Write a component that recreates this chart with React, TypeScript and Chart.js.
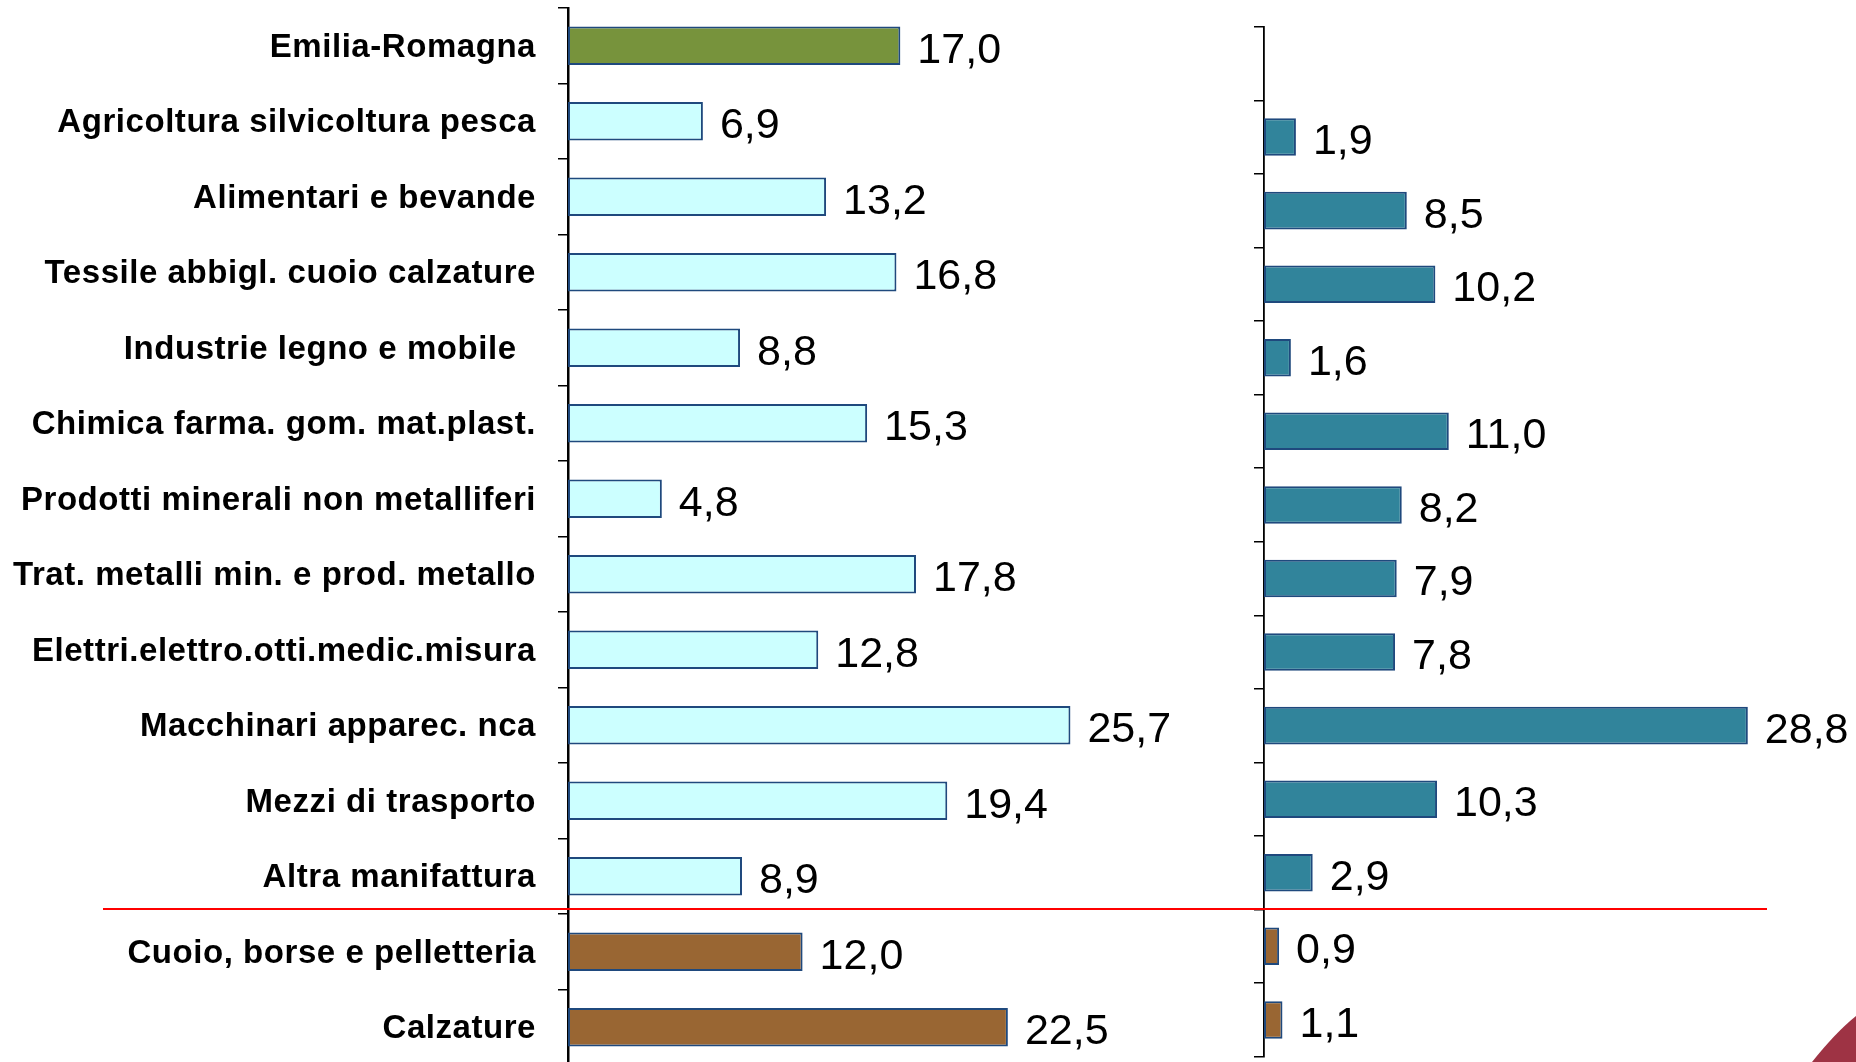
import React, { useEffect, useRef } from "react";
import { Chart, registerables } from "chart.js";

Chart.register(...registerables);

const categories = [
  "Emilia-Romagna",
  "Agricoltura silvicoltura pesca",
  "Alimentari e bevande",
  "Tessile abbigl. cuoio calzature",
  "Industrie legno e mobile  ",
  "Chimica farma. gom. mat.plast.",
  "Prodotti minerali non metalliferi",
  "Trat. metalli min. e prod. metallo",
  "Elettri.elettro.otti.medic.misura",
  "Macchinari apparec. nca",
  "Mezzi di trasporto",
  "Altra manifattura",
  "Cuoio, borse e pelletteria",
  "Calzature",
];

const leftValues = [17.0, 6.9, 13.2, 16.8, 8.8, 15.3, 4.8, 17.8, 12.8, 25.7, 19.4, 8.9, 12.0, 22.5];
const rightValues: (number | null)[] = [null, 1.9, 8.5, 10.2, 1.6, 11.0, 8.2, 7.9, 7.8, 28.8, 10.3, 2.9, 0.9, 1.1];

const leftColors = [
  "#77933C", "#CCFFFF", "#CCFFFF", "#CCFFFF", "#CCFFFF", "#CCFFFF", "#CCFFFF",
  "#CCFFFF", "#CCFFFF", "#CCFFFF", "#CCFFFF", "#CCFFFF", "#996633", "#996633",
];
const rightColors = [
  "#31849B", "#31849B", "#31849B", "#31849B", "#31849B", "#31849B", "#31849B",
  "#31849B", "#31849B", "#31849B", "#31849B", "#31849B", "#996633", "#996633",
];

const W = 1856;
const H = 1080;

const spacing = {
  id: "spacing",
  beforeDraw(chart: any) {
    (chart.ctx as any).letterSpacing = "0.55px";
  },
};

const valueLabels = {
  id: "valueLabels",
  afterDatasetsDraw(chart: any) {
    const ctx = chart.ctx;
    ctx.save();
    (ctx as any).letterSpacing = "0px";
    ctx.font = '43px "Liberation Sans", Arial, sans-serif';
    ctx.fillStyle = "#000";
    ctx.textAlign = "left";
    ctx.textBaseline = "alphabetic";
    const meta = chart.getDatasetMeta(0);
    const data = chart.data.datasets[0].data;
    meta.data.forEach((bar: any, i: number) => {
      const v = data[i];
      if (v === null || v === undefined) return;
      ctx.fillText(Number(v).toFixed(1).replace(".", ","), bar.x + 17, bar.y + 17);
    });
    ctx.restore();
  },
};

function makeConfig(
  values: (number | null)[],
  colors: string[],
  opts: { padLeft: number; padRight: number; padTop: number; padBottom: number; axisWidth: number; max: number; showLabels: boolean; borderWidth: number }
): any {
  return {
    type: "bar",
    data: {
      labels: categories,
      datasets: [
        {
          data: values,
          backgroundColor: colors,
          borderColor: "#1F497D",
          borderWidth: 2,
          borderSkipped: false,
          categoryPercentage: 1,
          barPercentage: 0.51,
        },
      ],
    },
    options: {
      indexAxis: "y",
      responsive: false,
      animation: false,
      devicePixelRatio: 1,
      layout: {
        padding: { left: opts.padLeft, right: opts.padRight, top: opts.padTop, bottom: opts.padBottom },
      },
      plugins: { legend: { display: false }, tooltip: { enabled: false }, title: { display: false } },
      scales: {
        x: { display: false, min: 0, max: opts.max },
        y: {
          display: true,
          offset: true,
          afterFit: (scale: any) => {
            scale.width = opts.axisWidth;
            scale.paddingTop = 0;
            scale.paddingBottom = 0;
          },
          border: { display: true, color: "#000", width: opts.borderWidth },
          grid: {
            display: true,
            drawOnChartArea: false,
            drawTicks: true,
            tickLength: 10,
            color: "#000",
            lineWidth: 1.5,
            offset: true,
          },
          ticks: {
            display: opts.showLabels,
            padding: 22,
            labelOffset: 2,
            color: "#000",
            font: { family: '"Liberation Sans", Arial, sans-serif', size: 33, weight: "bold" },
            autoSkip: false,
          },
        },
      },
    },
    plugins: [spacing, valueLabels],
  };
}

export default function App() {
  const leftRef = useRef<HTMLCanvasElement>(null);
  const rightRef = useRef<HTMLCanvasElement>(null);

  useEffect(() => {
    const leftMax = 30;
    const leftScale = 19.55;
    const leftAxisX = 568;
    const leftTop = 8;
    const leftStep = 75.5;
    const left = new Chart(
      leftRef.current as HTMLCanvasElement,
      makeConfig(leftValues, leftColors, {
        padLeft: 0,
        padRight: W - (leftAxisX + leftScale * leftMax),
        padTop: leftTop,
        padBottom: H - (leftTop + leftStep * categories.length),
        axisWidth: leftAxisX,
        max: leftMax,
        showLabels: true,
        borderWidth: 2.5,
      })
    );

    const rightMax = 35;
    const rightScale = 16.8;
    const rightAxisX = 1264;
    const rightTop = 26.7;
    const rightStep = 73.57;
    const right = new Chart(
      rightRef.current as HTMLCanvasElement,
      makeConfig(rightValues, rightColors, {
        padLeft: 1200,
        padRight: W - (rightAxisX + rightScale * rightMax),
        padTop: rightTop,
        padBottom: H - (rightTop + rightStep * categories.length),
        axisWidth: rightAxisX - 1200,
        max: rightMax,
        showLabels: false,
        borderWidth: 1.8,
      })
    );

    return () => {
      left.destroy();
      right.destroy();
    };
  }, []);

  const canvasStyle: React.CSSProperties = {
    position: "absolute",
    left: 0,
    top: 0,
    width: W,
    height: H,
  };

  return (
    <div
      style={{
        position: "fixed",
        left: 0,
        top: 0,
        width: 1856,
        height: 1062,
        overflow: "hidden",
        background: "#fff",
      }}
    >
      <canvas ref={leftRef} width={W} height={H} style={canvasStyle} />
      <canvas ref={rightRef} width={W} height={H} style={canvasStyle} />
      <div
        style={{
          position: "absolute",
          left: 103,
          top: 908,
          width: 1664,
          height: 2,
          background: "#FF0000",
        }}
      />
      <svg
        width={1856}
        height={1062}
        style={{ position: "absolute", left: 0, top: 0, pointerEvents: "none" }}
      >
        <path d="M 1812 1062 Q 1836 1032 1856 1016 L 1856 1062 Z" fill="#9E3344" />
      </svg>
    </div>
  );
}
